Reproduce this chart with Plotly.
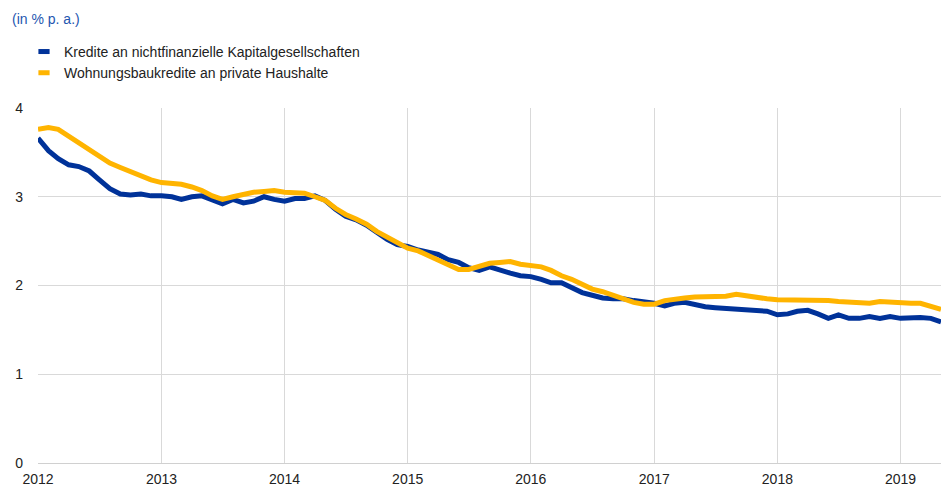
import pandas as pd
import plotly.graph_objects as go

months = pd.date_range("2012-01-01", "2019-05-01", freq="MS")

nfc_loans = [
    3.66, 3.52, 3.43, 3.36, 3.34, 3.29, 3.19, 3.09, 3.03, 3.02, 3.03, 3.01,
    3.01, 3.00, 2.97, 3.00, 3.01, 2.97, 2.92, 2.97, 2.93, 2.95, 3.00, 2.97,
    2.95, 2.98, 2.98, 3.01, 2.96, 2.86, 2.78, 2.74, 2.68, 2.60, 2.52, 2.46,
    2.44, 2.40, 2.37, 2.35, 2.29, 2.26, 2.20, 2.17, 2.21, 2.17, 2.14, 2.11,
    2.10, 2.07, 2.03, 2.03, 1.97, 1.92, 1.89, 1.86, 1.85, 1.85, 1.83, 1.82,
    1.80, 1.77, 1.80, 1.81, 1.78, 1.76, 1.75, 1.74, 1.73, 1.72, 1.72, 1.71,
    1.67, 1.68, 1.71, 1.72, 1.68, 1.63, 1.67, 1.63, 1.63, 1.65, 1.63, 1.65,
    1.63, 1.64, 1.64, 1.63, 1.59,
]
house_loans = [
    3.76, 3.78, 3.76, 3.68, 3.61, 3.53, 3.46, 3.38, 3.33, 3.28, 3.23, 3.19,
    3.16, 3.15, 3.14, 3.11, 3.07, 3.01, 2.97, 3.00, 3.03, 3.05, 3.06, 3.07,
    3.05, 3.05, 3.04, 3.00, 2.96, 2.87, 2.80, 2.75, 2.69, 2.61, 2.55, 2.49,
    2.42, 2.39, 2.34, 2.28, 2.23, 2.18, 2.18, 2.22, 2.25, 2.26, 2.27, 2.24,
    2.22, 2.21, 2.17, 2.11, 2.07, 2.01, 1.96, 1.93, 1.89, 1.85, 1.81, 1.79,
    1.79, 1.83, 1.85, 1.86, 1.87, 1.87, 1.87, 1.88, 1.90, 1.88, 1.87, 1.85,
    1.84, 1.84, 1.84, 1.84, 1.83, 1.83, 1.82, 1.81, 1.80, 1.80, 1.82, 1.81,
    1.81, 1.80, 1.80, 1.77, 1.73,
]

series_names = [
    "Kredite an nichtfinanzielle Kapitalgesellschaften",
    "Wohnungsbaukredite an private Haushalte",
]
colors = ["#003299", "#ffb400"]
y_ticks = [0, 1, 2, 3, 4]

FONT = "Liberation Sans, Arial, sans-serif"

fig = go.Figure()
for name, vals, col in zip(series_names, [nfc_loans, house_loans], colors):
    fig.add_trace(go.Scatter(
        x=months, y=vals, mode="lines", name=name,
        line=dict(color=col, width=5), showlegend=False, legendgroup=name,
    ))
for name, col in zip(series_names, colors):
    fig.add_trace(go.Scatter(
        x=[None], y=[None], mode="markers", name=name, legendgroup=name,
        marker=dict(symbol="line-ew", size=8, color=col,
                    line=dict(color=col, width=5)),
    ))

fig.update_layout(
    width=941, height=488,
    margin=dict(l=38, r=0, t=108, b=25, autoexpand=False),
    paper_bgcolor="white", plot_bgcolor="white",
    font=dict(family=FONT, size=14, color="#222222"),
    title=dict(text="(in % p. a.)", x=12 / 941, xref="container", xanchor="left",
               y=1 - 19 / 488, yref="container", yanchor="middle",
               font=dict(family=FONT, size=14, color="#2456b0")),
    legend=dict(x=-14 / 903, xanchor="left", xref="paper", y=1.203, yanchor="top",
                font=dict(family=FONT, size=14, color="#222222"),
                bgcolor="rgba(0,0,0,0)", tracegroupgap=0, itemwidth=30),
    showlegend=True,
)
fig.update_xaxes(
    range=["2012-01-01", "2019-05-01"],
    tick0="2012-01-01", dtick="M12", tickformat="%Y",
    showgrid=True, gridcolor="#d9d9d9", gridwidth=1,
    showline=False, zeroline=False, ticks="", ticklabelstandoff=6,
    tickfont=dict(size=14, color="#222222"), automargin=False,
)
fig.update_yaxes(
    range=[0, 4], tickvals=y_ticks,
    showgrid=True, gridcolor="#d9d9d9", gridwidth=1,
    zeroline=True, zerolinecolor="#d0d0d0", zerolinewidth=1,
    showline=False, ticks="", ticklabelstandoff=14,
    tickfont=dict(size=14, color="#222222"), automargin=False,
)

fig.write_html(
    "out.html",
    config={"displayModeBar": False},
    post_script="document.body.style.margin='0';document.body.style.overflow='hidden';",
)
